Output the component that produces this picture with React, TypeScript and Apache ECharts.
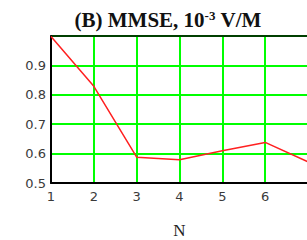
import React, { useEffect, useRef } from "react";
import * as echarts from "echarts";

const nValues = [1, 2, 3, 4, 5, 6, 7];
const mmse = [0.998, 0.829, 0.588, 0.579, 0.61, 0.638, 0.572];
const yTicks = [0.5, 0.6, 0.7, 0.8, 0.9, 1.0];

export default function App() {
  const ref = useRef<HTMLDivElement>(null);
  useEffect(() => {
    document.body.style.margin = "0";
    const chart = echarts.init(ref.current!, null, { renderer: "svg" });
    chart.setOption({
      animation: false,
      backgroundColor: "#ffffff",
      title: {
        text: "(B) MMSE, 10{sup|-3} V/M",
        left: 168,
        textAlign: "center",
        top: 9,
        padding: 0,
        textStyle: {
          fontFamily: "Liberation Serif",
          fontWeight: "bold",
          fontSize: 21,
          color: "#111",
          rich: {
            sup: {
              fontFamily: "Liberation Serif",
              fontWeight: "bold",
              fontSize: 13,
              color: "#111",
              verticalAlign: "top",
              padding: [0, 0, 9, 0],
            },
          },
        },
      },
      grid: { left: 51, top: 36, right: -1, bottom: 57, outerBoundsMode: "none", containLabel: false },
      xAxis: [
        {
          type: "value",
          min: 1,
          max: 7,
          interval: 1,
          name: "N",
          nameLocation: "middle",
          nameGap: 39,
          nameTextStyle: { fontFamily: "Liberation Serif", fontSize: 17, lineHeight: 17, color: "#222" },
          axisLine: { show: true, lineStyle: { color: "#000", width: 2 } },
          axisTick: { show: false },
          axisLabel: {
            showMaxLabel: false,
            margin: 7,
            fontFamily: "DejaVu Sans",
            fontSize: 13,
            color: "#3a3a3a",
            formatter: (v: number) => String(v),
          },
          splitLine: { show: true, lineStyle: { color: "#00ff00", width: 2 } },
        },
        {
          type: "value",
          position: "top",
          min: 1,
          max: 7,
          interval: 1,
          axisLine: { show: true, lineStyle: { color: "#000", width: 1.5 } },
          axisTick: { show: false },
          axisLabel: { show: false },
          splitLine: { show: false },
        },
      ],
      yAxis: {
        type: "value",
        min: yTicks[0],
        max: yTicks[yTicks.length - 1],
        interval: 0.1,
        axisLine: { show: true, lineStyle: { color: "#000", width: 2 } },
        axisTick: { show: false },
        axisLabel: {
          showMaxLabel: false,
          margin: 5,
          fontFamily: "DejaVu Sans",
          fontSize: 13,
          color: "#3a3a3a",
          formatter: (v: number) => v.toFixed(1),
        },
        splitLine: { show: true, lineStyle: { color: "#00ff00", width: 2 } },
      },
      series: [
        {
          type: "line",
          data: nValues.map((n, i) => [n, mmse[i]]),
          showSymbol: false,
          symbol: "none",
          lineStyle: { color: "#ff2020", width: 1.5 },
          z: 5,
        },
      ],
    });
    return () => chart.dispose();
  }, []);
  return <div ref={ref} style={{ width: 307, height: 240 }} />;
}
